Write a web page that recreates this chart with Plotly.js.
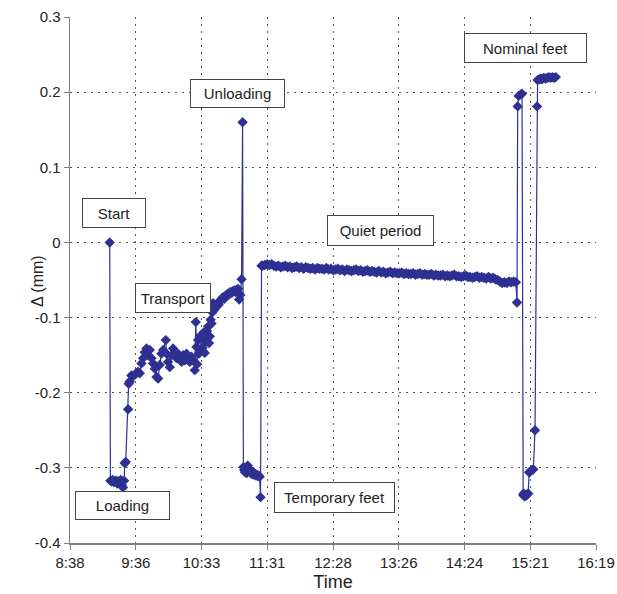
<!DOCTYPE html>
<html>
<head>
<meta charset="utf-8">
<script src="https://cdn.plot.ly/plotly-3.0.1.min.js"></script>
<style>html,body{margin:0;padding:0;background:#fff;}#chart{width:617px;height:594px;}</style>
</head>
<body>
<div id="chart"></div>
<script>
// Time in minutes after midnight, displacement in mm
const timeMin = [
  553.2, 553.8, 554.8, 555.8, 556.8, 557.8, 558.8, 559.8, 560.8, 561.8, 562.8, 563.8, 564.8, 565.8,
  566.4, 567.2, 569.3, 569.8, 570.7, 572.2, 573.6, 575.1, 576.5, 578.0, 579.5, 581.0, 582.4, 583.9,
  585.4, 586.8, 588.3, 589.8, 591.2, 592.7, 594.2, 595.6, 597.0, 598.5, 600.0, 602.3, 602.9, 604.3,
  605.8, 607.3, 608.7, 610.2, 611.7, 613.1, 614.6, 616.1, 617.5, 619.0, 620.5, 621.9, 623.3, 624.8,
  626.2, 627.7,
  628.6, 629.2, 629.8, 630.6, 631.4, 632.1, 632.9, 633.6, 634.5, 635.4, 636.5, 637.4, 638.4, 639.4,
  640.2, 640.9, 641.6, 642.4, 643.1, 643.8, 644.6, 645.3, 646.5, 647.6, 648.6, 649.7, 650.8, 651.7,
  652.5, 653.6, 654.6, 655.7, 656.9, 657.9, 659.0, 660.1, 661.3, 662.4, 663.5, 664.6, 665.7, 666.6,
  667.6, 668.7, 669.6,
  670.3, 671.0, 671.8, 672.6, 673.3, 674.1, 674.8, 675.6, 676.4, 677.3, 678.2, 679.1, 680.0, 680.9,
  681.8, 682.7, 683.6, 684.5, 685.3,
  686.2, 687, 689, 691, 693, 695, 697, 699, 701, 703, 705, 707, 709, 711, 713, 715, 717, 719, 721,
  723, 725, 727, 729, 731, 733, 735, 737, 739, 741, 743, 745, 747, 749, 751, 753, 755, 757, 759,
  761, 763, 765, 767, 769, 771, 773, 775, 777, 779, 781, 783, 785, 787, 789, 791, 793, 795, 797,
  799, 801, 803, 805, 807, 809, 811, 813, 815, 817, 819, 821, 823, 825, 827, 829, 831, 833, 835,
  837, 839, 841, 843, 845, 847, 849, 851, 853, 855, 857, 859, 861, 863, 865, 867, 869, 871, 873,
  875, 877, 879, 881, 883, 885, 887, 889, 891, 893, 895, 897, 899, 901, 903, 905, 907, 909,
  910.0, 910.6, 911.4, 913.4, 914.4, 915.4,
  915.8, 916.6, 917.4, 918.2, 919.0, 919.8, 920.6, 921.6, 922.9, 924.3, 925.8, 927.6,
  928.0, 929.5, 930.5, 931.5, 932.5, 933.5, 935.0, 936.5, 938.0, 939.5, 941.0, 942.5, 944.0, 945.0
];
const deltaMm = [
  0.000, -0.317, -0.318, -0.316, -0.319, -0.318, -0.317, -0.321, -0.318, -0.320, -0.316, -0.323, -0.326, -0.317,
  -0.294, -0.292, -0.222, -0.188, -0.185, -0.177, -0.178, -0.176, -0.174, -0.172, -0.174, -0.161, -0.154, -0.146,
  -0.141, -0.150, -0.143, -0.154, -0.161, -0.168, -0.179, -0.181, -0.163, -0.148, -0.143, -0.130, -0.148, -0.159,
  -0.166, -0.150, -0.141, -0.150, -0.154, -0.148, -0.152, -0.159, -0.150, -0.157, -0.148, -0.154, -0.159, -0.152,
  -0.157, -0.170,
  -0.106, -0.139, -0.162, -0.130, -0.148, -0.146, -0.124, -0.128, -0.140, -0.120, -0.147, -0.132, -0.118, -0.112,
  -0.134, -0.125, -0.103, -0.108, -0.093, -0.081, -0.090, -0.084, -0.086, -0.081, -0.083, -0.078, -0.077, -0.074,
  -0.073, -0.075, -0.071, -0.070, -0.068, -0.069, -0.066, -0.067, -0.065, -0.064, -0.066, -0.063, -0.062, -0.076,
  -0.070, -0.049, 0.160,
  -0.299, -0.303, -0.306, -0.300, -0.307, -0.297, -0.301, -0.304, -0.306, -0.308, -0.305, -0.309, -0.307, -0.310,
  -0.309, -0.311, -0.310, -0.312, -0.339,
  -0.031, -0.031, -0.030, -0.029, -0.030, -0.029, -0.031, -0.032, -0.031, -0.033, -0.032, -0.031, -0.033, -0.032,
  -0.034, -0.033, -0.032, -0.034, -0.033, -0.035, -0.033, -0.034, -0.035, -0.034, -0.036, -0.034, -0.035, -0.035,
  -0.036, -0.034, -0.036, -0.035, -0.037, -0.036, -0.035, -0.037, -0.036, -0.038, -0.036, -0.037, -0.038, -0.037,
  -0.036, -0.038, -0.037, -0.039, -0.038, -0.037, -0.039, -0.038, -0.039, -0.040, -0.038, -0.040, -0.039, -0.041,
  -0.040, -0.039, -0.041, -0.040, -0.041, -0.041, -0.040, -0.042, -0.041, -0.042, -0.042, -0.041, -0.043, -0.042,
  -0.041, -0.043, -0.042, -0.043, -0.043, -0.042, -0.044, -0.043, -0.044, -0.044, -0.043, -0.045, -0.044, -0.045,
  -0.044, -0.043, -0.045, -0.045, -0.046, -0.045, -0.044, -0.046, -0.046, -0.047, -0.046, -0.045, -0.047, -0.046,
  -0.047, -0.048, -0.046, -0.048, -0.047, -0.049, -0.050, -0.052, -0.054, -0.053, -0.054, -0.052, -0.053, -0.052,
  -0.053, -0.080, 0.181, 0.195, 0.197, 0.198,
  -0.336, -0.334, -0.338, -0.336, -0.337, -0.335, -0.334, -0.306, -0.305, -0.303, -0.302, -0.250,
  0.181, 0.216, 0.217, 0.218, 0.217, 0.218, 0.219, 0.218, 0.219, 0.220, 0.219, 0.220, 0.219, 0.220
];

const xTickVals = [518.4, 576.0, 633.6, 691.2, 748.8, 806.4, 864.0, 921.6, 979.2];
const xTickText = ["8:38", "9:36", "10:33", "11:31", "12:28", "13:26", "14:24", "15:21", "16:19"];
const yTickVals = [0.3, 0.2, 0.1, 0, -0.1, -0.2, -0.3, -0.4];
const yTickText = ["0.3", "0.2", "0.1", "0", "-0.1", "-0.2", "-0.3", "-0.4"];

const labelText = ["Start", "Loading", "Transport", "Unloading", "Temporary feet", "Quiet period", "Nominal feet"];
const xTitle = "Time";
const yTitle = "Δ (mm)";

const seriesColor = "#2E3192";
const fontFam = "'Liberation Sans', Arial, sans-serif";

const trace = {
  x: timeMin, y: deltaMm, type: "scatter", mode: "lines+markers",
  line: {color: seriesColor, width: 1.2},
  marker: {symbol: "diamond", size: 8, color: seriesColor, line: {width: 0}},
  hoverinfo: "skip"
};

const boxPos = [
  {x: 0.0837, y: 0.627, w: 62, h: 28},
  {x: 0.0989, y: 0.0713, w: 93, h: 27},
  {x: 0.1949, y: 0.4667, w: 74, h: 28},
  {x: 0.3184, y: 0.8546, w: 93, h: 27},
  {x: 0.5038, y: 0.0865, w: 119, h: 29},
  {x: 0.5894, y: 0.5932, w: 105, h: 29},
  {x: 0.8669, y: 0.9411, w: 121, h: 28}
];

const annotations = labelText.map((t, i) => ({
  text: t, xref: "paper", yref: "paper", x: boxPos[i].x, y: boxPos[i].y,
  xanchor: "center", yanchor: "middle", showarrow: false,
  width: boxPos[i].w, height: boxPos[i].h, align: "center", valign: "middle",
  bgcolor: "#ffffff", bordercolor: "#444", borderwidth: 1, borderpad: 0,
  font: {family: fontFam, size: 15, color: "#222"}
}));
annotations.push({
  text: yTitle, xref: "paper", yref: "paper", x: -0.063, y: 0.498,
  xanchor: "center", yanchor: "middle", showarrow: false, textangle: -90,
  font: {family: fontFam, size: 16, color: "#222"}
});

const gridDash = "2px,5px";
const layout = {
  width: 617, height: 594,
  margin: {l: 70, r: 21, t: 17, b: 51},
  paper_bgcolor: "#ffffff", plot_bgcolor: "#ffffff",
  showlegend: false,
  font: {family: fontFam, size: 15, color: "#222"},
  xaxis: {
    range: [518.4, 979.2], tickvals: xTickVals, ticktext: xTickText,
    showgrid: true, gridcolor: "#555", griddash: gridDash, gridwidth: 1,
    zeroline: false, showline: true, linecolor: "#808080", linewidth: 1.5,
    ticks: "outside", ticklen: 5, tickcolor: "#808080",
    tickfont: {family: fontFam, size: 15, color: "#222"},
    title: {text: xTitle, font: {family: fontFam, size: 18, color: "#222"}, standoff: 6}
  },
  yaxis: {
    range: [-0.4, 0.3], tickvals: yTickVals, ticktext: yTickText,
    showgrid: true, gridcolor: "#555", griddash: gridDash, gridwidth: 1,
    zeroline: false, showline: true, linecolor: "#808080", linewidth: 1.5,
    ticks: "outside", ticklen: 5, tickcolor: "#808080",
    tickfont: {family: fontFam, size: 15, color: "#222"}
  },
  annotations: annotations
};

Plotly.newPlot("chart", [trace], layout, {staticPlot: true, displayModeBar: false});
</script>
</body>
</html>
